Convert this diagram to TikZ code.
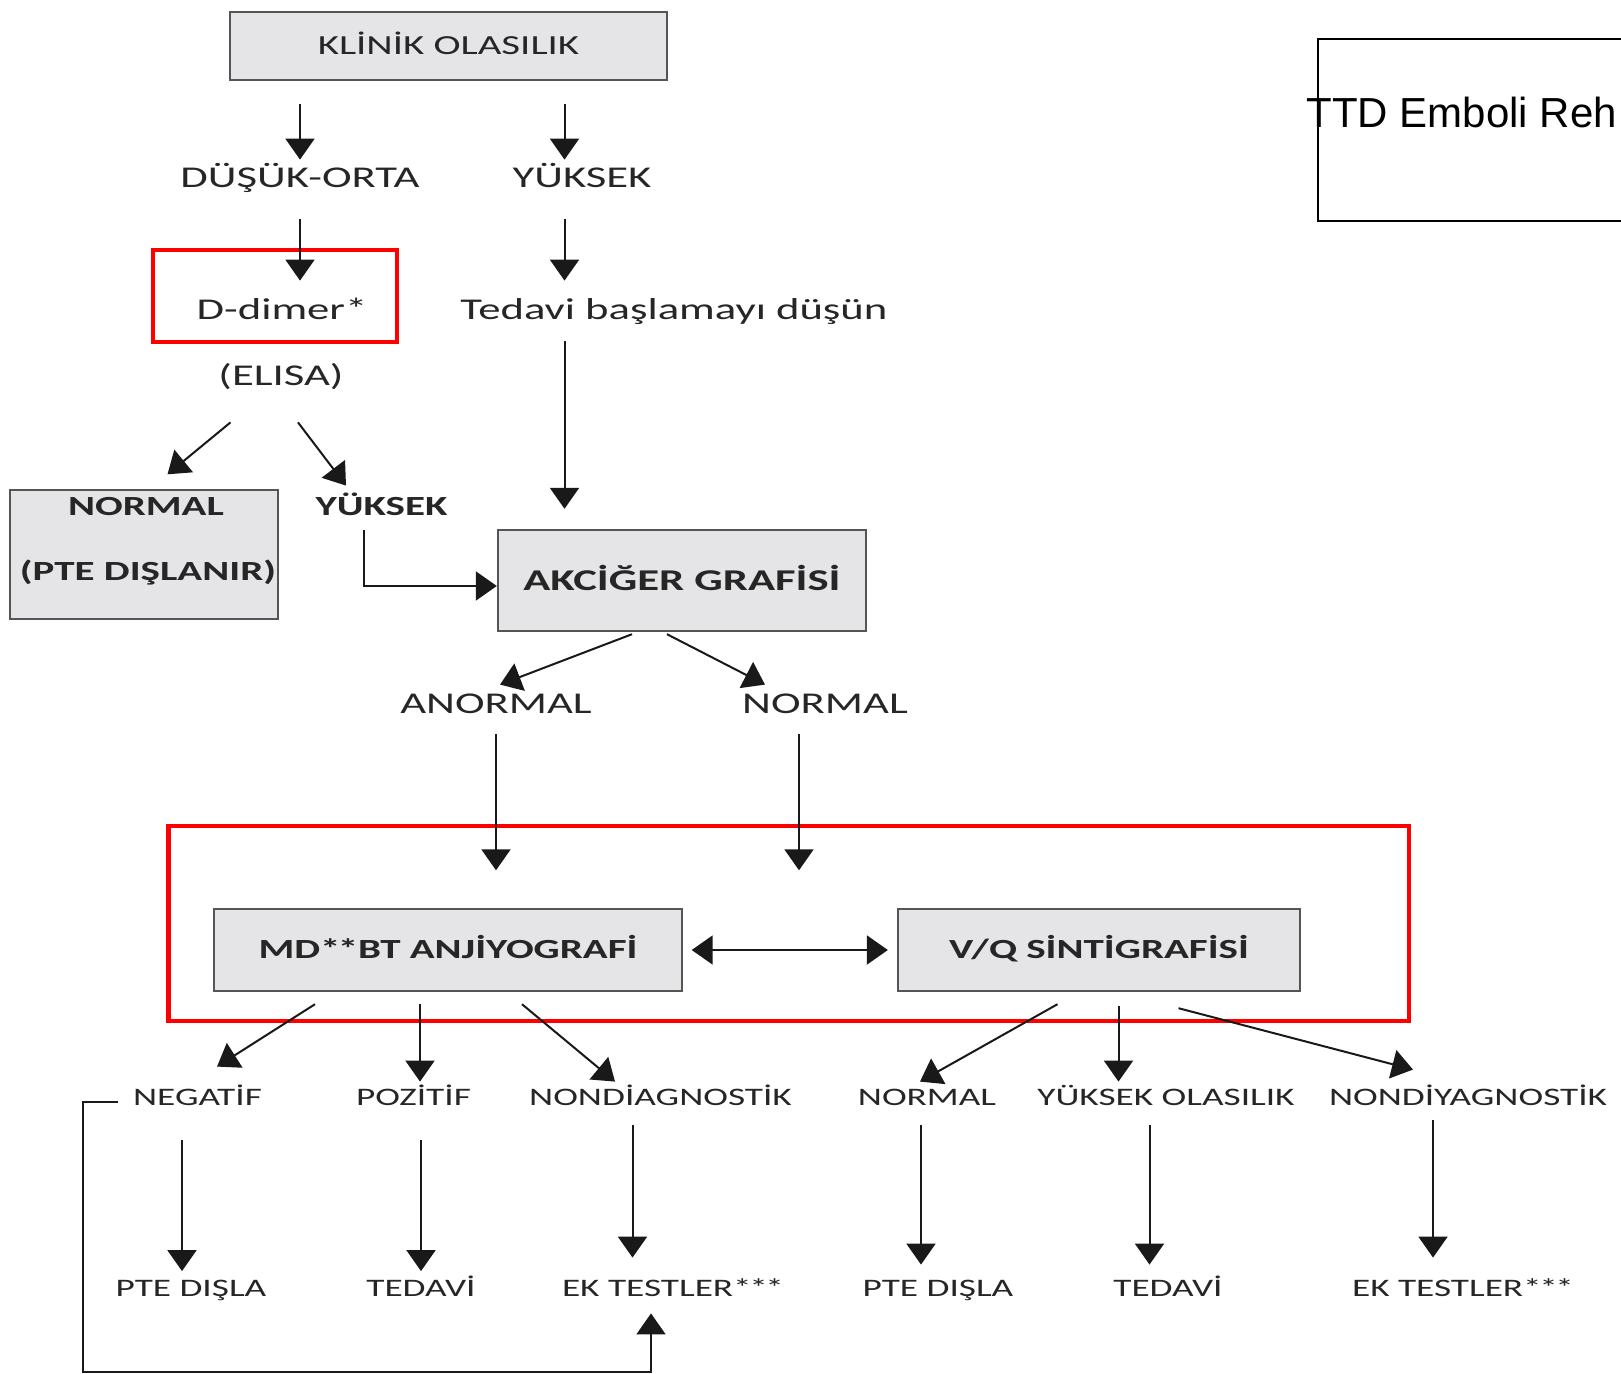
\documentclass[tikz,border=0pt]{standalone}
\usepackage{fontspec}
\setmainfont{Carlito}[FakeStretch=1.48]
\newfontfamily\ttdfont{Liberation Sans}
\usetikzlibrary{arrows.meta}

\definecolor{boxfill}{RGB}{229,229,231}
\definecolor{boxline}{RGB}{85,85,85}
\definecolor{txt}{RGB}{38,38,38}
\definecolor{arrowc}{RGB}{25,25,25}

\begin{document}
\begin{tikzpicture}[x=0.5pt,y=0.5pt,yscale=-1,xscale=1,
  tlbl/.style={inner sep=0pt, text height=9.73pt, text depth=0pt, text=txt, font=\fontsize{15.1}{18}\selectfont},
  slbl/.style={inner sep=0pt, text height=8.11pt, text depth=0pt, text=txt, font=\fontsize{12.6}{15}\selectfont},
  blbl/.style={inner sep=0pt, text height=8.92pt, text depth=0pt, text=txt, font=\fontsize{13.85}{16}\selectfont\bfseries},
  gbox/.style={draw=boxline, fill=boxfill, line width=1.2pt, inner sep=0pt},
  hl/.style={draw=red, line width=2.4pt},
  arr/.style={draw=arrowc, line width=1pt, -{Triangle[width=14.5pt,length=10.5pt]}},
  dblarr/.style={draw=arrowc, line width=1pt, {Triangle[width=14.5pt,length=10.5pt]}-{Triangle[width=14.5pt,length=10.5pt]}}]
\useasboundingbox (0,0) rectangle (1621,1374);

% Boxes
\node[gbox, slbl, font=\fontsize{13.8}{16}\selectfont, text height=8.89pt, minimum width=218.5pt, minimum height=34pt] (klinik) at (448.5,46) {KLİNİK OLASILIK};
\node[gbox, minimum width=134pt, minimum height=64.5pt] (normbox) at (144,554.5) {};
\node[gbox, blbl, font=\fontsize{15.1}{18}\selectfont\bfseries, text height=9.73pt, minimum width=184pt, minimum height=50.5pt] (akciger) at (682,580.5) {AKCİĞER GRAFİSİ};
\node[gbox, blbl, minimum width=234pt, minimum height=41pt] (mdbt) at (448,950) {MD*\kern-0.1em*BT ANJİYOGRAFİ};
\node[gbox, blbl, minimum width=200.75pt, minimum height=41pt] (vq) at (1099,950) {V/Q SİNTİGRAFİSİ};

% Red highlights
\draw[hl] (153,250) rectangle (397,342);
\draw[hl] (168.5,826) rectangle (1409,1021);

% Text nodes
\node[tlbl] (dusuk) at (300,178) {DÜŞÜK-ORTA};
\node[tlbl] (yuksekA) at (582,178) {YÜKSEK};
\node[tlbl] (ddimer) at (282,310) {D-dimer*};
\node[tlbl] (tedavi) at (674,310) {Tedavi başlamayı düşün};
\node[tlbl] (elisa) at (281,376) {(ELISA)};
\node[blbl] (normalA) at (146,506.5) {NORMAL};
\node[blbl] (ptedis) at (148,572) {(PTE DIŞLANIR)};
\node[blbl] (yuksekB) at (381.5,506.5) {YÜKSEK};
\node[tlbl] (anormal) at (496,704) {ANORMAL};
\node[tlbl] (normalB) at (825,704) {NORMAL};
\node[slbl] (neg) at (197.5,1097) {NEGATİF};
\node[slbl] (poz) at (413.5,1097) {POZİTİF};
\node[slbl] (nondiag) at (660.5,1097) {NONDİAGNOSTİK};
\node[slbl] (normalC) at (927,1097) {NORMAL};
\node[slbl] (yuksekol) at (1166,1097) {YÜKSEK OLASILIK};
\node[slbl] (nondiy) at (1468,1097) {NONDİYAGNOSTİK};
\node[slbl] (pteA) at (191,1288) {PTE DIŞLA};
\node[slbl] (tedA) at (421,1288) {TEDAVİ};
\node[slbl] (ekA) at (673,1288) {EK TESTLER*\kern-0.1em*\kern-0.1em*};
\node[slbl] (pteB) at (938,1288) {PTE DIŞLA};
\node[slbl] (tedB) at (1168,1288) {TEDAVİ};
\node[slbl] (ekB) at (1463,1288) {EK TESTLER*\kern-0.1em*\kern-0.1em*};

% Title frame
\draw[line width=1pt] (1318,39) rectangle (1700,221);
\node[anchor=west, inner sep=0pt, text height=15.04pt, text depth=0pt, font=\ttdfont\fontsize{21}{25}\selectfont] (ttd) at (1306,112) {TTD Emboli Reh};

\coordinate (col) at (564.5,0);

% Upper arrows
\draw[arr, shorten <=11.5pt, shorten >=4.13pt] (klinik.south -| dusuk.north) -- (dusuk.north);
\draw[arr, shorten <=11.5pt, shorten >=4.13pt] (klinik.south -| col) -- (yuksekA.north -| col);
\draw[arr, shorten <=15.63pt, shorten >=9.63pt] (dusuk.south) -- (dusuk.south |- ddimer.north);
\draw[arr, shorten <=15.63pt, shorten >=9.63pt] (yuksekA.south -| col) -- (tedavi.north -| col);
\draw[arr, shorten <=10.63pt, shorten >=10pt] (tedavi.south -| col) -- (akciger.north -| col);
\draw[arr] ([xshift=-25.25pt,yshift=18.13pt]elisa.south) -- ([xshift=11.75pt,yshift=-7.25pt]normbox.north);
\draw[arr] ([xshift=8.5pt,yshift=18.13pt]elisa.south) -- ([xshift=-17.75pt,yshift=-5.8pt]yuksekB.north);
\draw[arr] ([xshift=-8.75pt,yshift=7.3pt]yuksekB.south) |- ([yshift=2.75pt]akciger.west);

% Middle arrows
\draw[arr] ([xshift=-25pt,yshift=1pt]akciger.south) -- ([xshift=2pt,yshift=-4.63pt]anormal.north);
\draw[arr] ([xshift=-7.5pt,yshift=1pt]akciger.south) -- ([xshift=-30pt,yshift=-4.63pt]normalB.north);
\draw[arr, shorten <=10.13pt, shorten >=18.75pt] (anormal.south) -- (anormal.south |- mdbt.north);
\draw[arr, shorten <=10.13pt, shorten >=18.75pt] ([xshift=-13pt]normalB.south) -- ([xshift=-13pt]normalB.south |- vq.north);
\draw[dblarr, shorten <=4.25pt, shorten >=4.6pt] (mdbt.east) -- (vq.west);

% Lower arrows
\draw[arr] ([xshift=-66.5pt,yshift=6pt]mdbt.south) -- ([xshift=9.75pt,yshift=-10.95pt]neg.north);
\draw[arr] ([xshift=-14pt,yshift=6pt]mdbt.south) -- ([xshift=3.25pt,yshift=-3.45pt]poz.north);
\draw[arr] ([xshift=37pt,yshift=6pt]mdbt.south) -- ([xshift=-22.75pt,yshift=-3.45pt]nondiag.north);
\draw[arr] ([xshift=-20.75pt,yshift=6pt]vq.south) -- ([xshift=-3.5pt,yshift=-3.45pt]normalC.north);
\draw[arr] ([xshift=9.75pt,yshift=7pt]vq.south) -- ([xshift=-23.75pt,yshift=-3.45pt]yuksekol.north);
\draw[arr] ([xshift=39.75pt,yshift=8pt]vq.south) -- ([xshift=-27.5pt,yshift=-9.45pt]nondiy.north);

\draw[arr, shorten <=17.45pt, shorten >=4.2pt] ([xshift=-4.5pt]pteA.north |- neg.south) -- ([xshift=-4.5pt]pteA.north);
\draw[arr, shorten <=17.45pt, shorten >=4.2pt] (tedA.north |- poz.south) -- (tedA.north);
\draw[arr, shorten <=9.95pt, shorten >=10.95pt] ([xshift=-20.25pt]ekA.north |- nondiag.south) -- ([xshift=-20.25pt]ekA.north);
\draw[arr, shorten <=9.95pt, shorten >=7.45pt] ([xshift=-8.5pt]pteB.north |- normalC.south) -- ([xshift=-8.5pt]pteB.north);
\draw[arr, shorten <=9.95pt, shorten >=7.45pt] ([xshift=-9.25pt]tedB.north |- yuksekol.south) -- ([xshift=-9.25pt]tedB.north);
\draw[arr, shorten <=7.45pt, shorten >=10.95pt] ([xshift=-15pt]ekB.north |- nondiy.south) -- ([xshift=-15pt]ekB.north);

% Loop back
\draw[arr, shorten >=8.45pt] ([xshift=-7.5pt,yshift=2.5pt]neg.west) -- ++(-35,0) -- ++(0,270) -| ([xshift=-11pt]ekA.south);

\end{tikzpicture}
\end{document}
